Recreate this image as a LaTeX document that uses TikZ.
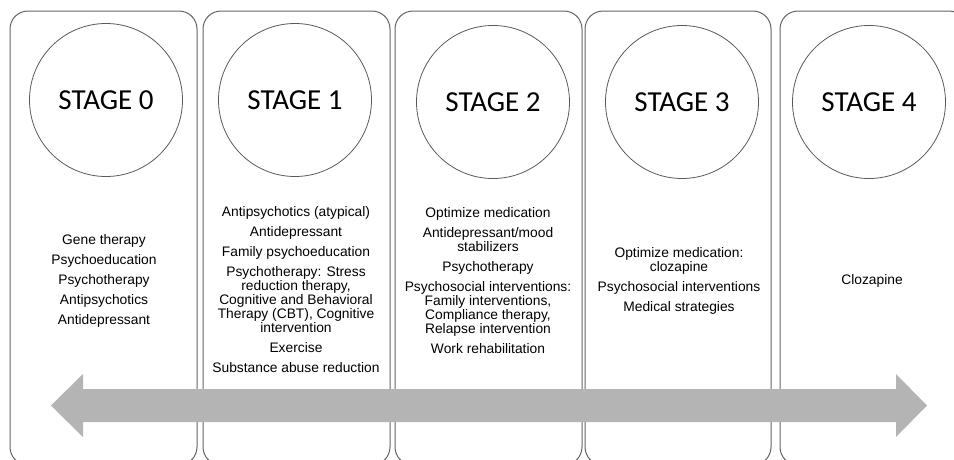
\documentclass[tikz,border=0pt]{standalone}
\usepackage{fontspec}
\setmainfont{Liberation Sans}
\newfontfamily\stagefont{Carlito}
\definecolor{boxline}{RGB}{100,100,100}
\definecolor{circline}{RGB}{90,90,90}
\definecolor{arrowgray}{RGB}{180,180,180}
\begin{document}
\begin{tikzpicture}[x=1pt,y=-1pt,
  stagebox/.style={draw=boxline, line width=1pt, rounded corners=18pt},
  stagecircle/.style={draw=circline, line width=0.8pt, circle, minimum size=153pt, inner sep=0pt,
    font=\stagefont\fontsize{29}{32}\selectfont},
  body/.style={align=center, inner sep=0pt, text=black, font=\fontsize{13.8}{14}\selectfont}]
\useasboundingbox (0,0) rectangle (954,459);
\clip (0,0) rectangle (954,459);
\fill[white] (0,0) rectangle (954,459);
% boxes
\draw[stagebox] (10,11) rectangle (197,465);
\draw[stagebox] (203,11) rectangle (390,465);
\draw[stagebox] (395,11) rectangle (582,465);
\draw[stagebox] (585,11) rectangle (771,465);
\draw[stagebox] (780,11) rectangle (967,465);
% circles
\node[stagecircle] (c0) at (106,100) {STAGE 0};
\node[stagecircle] (c1) at (295,100) {STAGE 1};
\node[stagecircle] (c2) at (493,102) {STAGE 2};
\node[stagecircle] (c3) at (682,102) {STAGE 3};
\node[stagecircle] (c4) at (869,102) {STAGE 4};
% double arrow
\fill[arrowgray] (51,405.5) -- (83,374) -- (83,389) -- (896,389) -- (896,374) -- (927,405.5)
  -- (896,437) -- (896,422) -- (83,422) -- (83,437) -- cycle;
% texts
\node[body] (t0) at (104,281) {Gene therapy\\[6pt]Psychoeducation\\[6pt]Psychotherapy\\[6pt]Antipsychotics\\[6pt]Antidepressant};
\node[body] (t1) at (296,290) {Antipsychotics (atypical)\\[6pt]Antidepressant\\[6pt]Family psychoeducation\\[6pt]Psychotherapy: Stress\\reduction therapy,\\Cognitive and Behavioral\\Therapy (CBT), Cognitive\\intervention\\[6pt]Exercise\\[6pt]Substance abuse reduction};
\node[body] (t2) at (488,281) {Optimize medication\\[6pt]Antidepressant/mood\\stabilizers\\[6pt]Psychotherapy\\[6pt]Psychosocial interventions:\\Family interventions,\\Compliance therapy,\\Relapse intervention\\[6pt]Work rehabilitation};
\node[body] (t3) at (679,281) {Optimize medication:\\clozapine\\[6pt]Psychosocial interventions\\[6pt]Medical strategies};
\node[body] (t4) at (872,281) {Clozapine};
\end{tikzpicture}
\end{document}
